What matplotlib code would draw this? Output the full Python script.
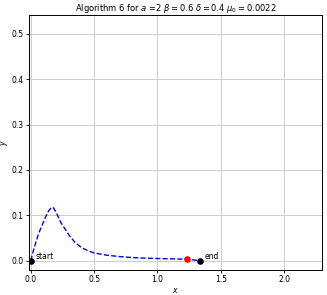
import matplotlib
matplotlib.use('Agg')
import matplotlib.pyplot as plt
import numpy as np

# path
x = [0.0, 0.02, 0.04, 0.06, 0.08, 0.1, 0.12, 0.14, 0.16, 0.17, 0.18, 0.2, 0.216,
     0.24, 0.268, 0.3, 0.35, 0.4, 0.45, 0.5, 0.6, 0.7, 0.8, 0.9, 1.0, 1.1, 1.2,
     1.237, 1.334]
y = [0.0, 0.021, 0.04, 0.058, 0.072, 0.085, 0.098, 0.109, 0.1165, 0.118, 0.116,
     0.107, 0.097, 0.083, 0.071, 0.057, 0.040, 0.029, 0.022, 0.017, 0.012, 0.009,
     0.0068, 0.0055, 0.0047, 0.004, 0.0033, 0.003, 0.0]

start = (0.0, 0.0)
end = (1.334, 0.0)
mid = (1.237, 0.003)

fig = plt.figure(figsize=(3.27, 2.95), dpi=100)
ax = fig.add_axes([0.089, 0.085, 0.896, 0.863])

ax.plot(x, y, '--', color='blue', lw=1)
ax.scatter([mid[0]], [mid[1]], color='red', s=14, zorder=3)
ax.scatter([start[0], end[0]], [start[1], end[1]], color='black', s=14, zorder=4)
ax.text(start[0] + 0.04, start[1], 'start', fontsize=5.5, va='bottom')
ax.text(end[0] + 0.04, end[1], 'end', fontsize=5.5, va='bottom')

ax.set_xlim(-0.013, 2.3)
ax.set_ylim(-0.0205, 0.541)
ax.set_xticks([0.0, 0.5, 1.0, 1.5, 2.0])
ax.set_yticks([0.0, 0.1, 0.2, 0.3, 0.4, 0.5])
ax.tick_params(labelsize=5.5, length=2.5, width=0.6, pad=1.5)
ax.grid(True, color='#cccccc', lw=0.7)
for s in ax.spines.values():
    s.set_linewidth(0.7)

ax.set_xlabel('$x$', fontsize=5.5, labelpad=1)
ax.set_ylabel('$y$', fontsize=5.5, labelpad=1)
ax.set_title(r'Algorithm 6 for $a$ =2 $\beta=0.6$ $\delta=0.4$ $\mu_0=0.0022$',
             fontsize=6, pad=3)

fig.savefig('out.png', dpi=100)
